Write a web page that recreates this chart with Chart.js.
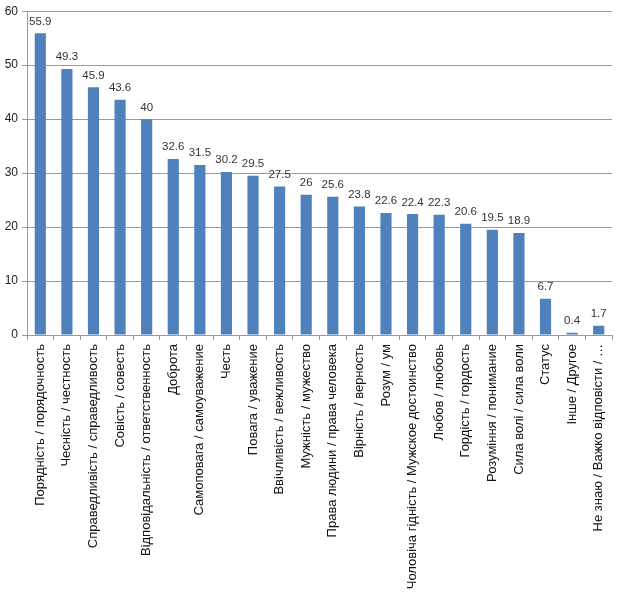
<!DOCTYPE html>
<html>
<head>
<meta charset="utf-8">
<script src="https://cdn.jsdelivr.net/npm/chart.js@4/dist/chart.umd.min.js"></script>
<style>
  body { margin: 0; background: #fff; }
  #wrap { width: 625px; height: 600px; }
</style>
</head>
<body>
<div id="wrap"><canvas id="myChart" width="625" height="600"></canvas></div>
<script>
var categories = [
    "Порядність / порядочность",
    "Чесність / честность",
    "Справедливість / справедливость",
    "Совість / совесть",
    "Відповідальність / ответственность",
    "Доброта",
    "Самоповага / самоуважение",
    "Честь",
    "Повага / уважение",
    "Ввічливість / вежливость",
    "Мужність / мужество",
    "Права людини / права человека",
    "Вірність / верность",
    "Розум / ум",
    "Чоловіча гідність / Мужское достоинство",
    "Любов / любовь",
    "Гордість / гордость",
    "Розуміння / понимание",
    "Сила волі / сила воли",
    "Статус",
    "Інше / Другое",
    "Не знаю / Важко відповісти / …"
];
var values = [55.9, 49.3, 45.9, 43.6, 40, 32.6, 31.5, 30.2, 29.5, 27.5, 26, 25.6, 23.8, 22.6, 22.4, 22.3, 20.6, 19.5, 18.9, 6.7, 0.4, 1.7];
var yTicks = [0, 10, 20, 30, 40, 50, 60];

var fontFamily = "'Liberation Sans', Arial, sans-serif";

// draws the number above each bar
var valueLabels = {
    id: "valueLabels",
    afterDatasetsDraw: function(chart){
        var ctx = chart.ctx;
        var meta = chart.getDatasetMeta(0);
        ctx.save();
        ctx.font = "11.5px " + fontFamily;
        ctx.fillStyle = "#333";
        ctx.textAlign = "center";
        ctx.textBaseline = "bottom";
        meta.data.forEach(function(bar, i){
            ctx.fillText(String(values[i]), bar.x, bar.y - 6);
        });
        ctx.restore();
    }
};

var chart = new Chart(document.getElementById("myChart"), {
    type: "bar",
    data: {
        labels: categories,
        datasets: [{
            data: values,
            backgroundColor: "#4F81BD",
            barPercentage: 0.42,
            categoryPercentage: 1
        }]
    },
    options: {
        responsive: false,
        animation: false,
        layout: { padding: { top: 6, right: 13, left: 0, bottom: 0 } },
        plugins: {
            legend: { display: false },
            tooltip: { enabled: false }
        },
        scales: {
            x: {
                grid: { display: true, drawOnChartArea: false, offset: true, tickLength: 5, color: "#999" },
                border: { color: "#999" },
                ticks: {
                    autoSkip: false,
                    minRotation: 90,
                    maxRotation: 90,
                    color: "#111",
                    padding: 4,
                    font: { family: fontFamily, size: 13 }
                },
                afterFit: function(scale){ scale.height = 265; }
            },
            y: {
                min: 0,
                max: 60,
                afterBuildTicks: function(scale){
                    scale.ticks = yTicks.map(function(v){ return { value: v }; });
                },
                grid: { color: "#999", tickLength: 5 },
                border: { color: "#999" },
                ticks: {
                    color: "#222",
                    padding: 4,
                    font: { family: fontFamily, size: 12 }
                },
                afterFit: function(scale){ scale.width = 27; }
            }
        }
    },
    plugins: [valueLabels]
});
</script>
</body>
</html>
